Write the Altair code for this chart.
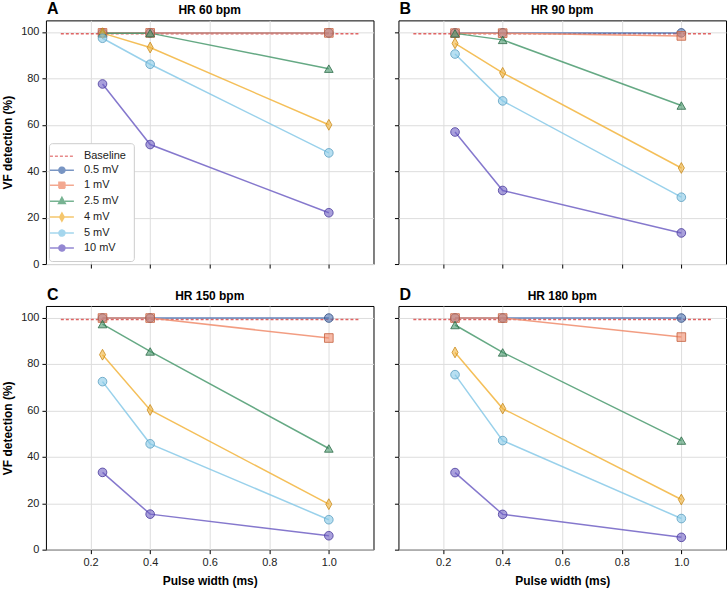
import altair as alt
import pandas as pd

FONT = "Liberation Sans"

# Pulse widths tested (ms)
pulse_widths = [0.24, 0.4, 1.0]

# Pacing amplitudes and their colours / marker shapes
series_names = ["0.5 mV", "1 mV", "2.5 mV", "4 mV", "5 mV", "10 mV"]
series_colors = ["#4C72B0", "#F08C6C", "#4A9A6E", "#F2B43C", "#87C9E8", "#7060C4"]
series_edges = ["#2E4A80", "#C4603E", "#2C6B47", "#C98A1A", "#5A9EC0", "#47389A"]
thin_diamond = "M0,-1.25L0.7,0L0,1.25L-0.7,0Z"
series_shapes = ["circle", "square", "triangle-up", thin_diamond, "circle", "circle"]

# Panel titles and letters
panel_titles = ["HR 60 bpm", "HR 90 bpm", "HR 150 bpm", "HR 180 bpm"]
panel_letters = ["A", "B", "C", "D"]

# VF detection (%) per amplitude, at pulse widths 0.24 / 0.4 / 1.0 ms
hr60 = {
    "0.5 mV": [99.6, 99.6, 99.6],
    "1 mV": [99.6, 99.6, 99.6],
    "2.5 mV": [99.5, 99.5, 84.2],
    "4 mV": [99.5, 93.3, 60.0],
    "5 mV": [97.3, 86.1, 47.9],
    "10 mV": [77.6, 51.5, 22.1],
}
hr90 = {
    "0.5 mV": [99.6, 99.6, 99.6],
    "1 mV": [99.5, 99.5, 98.3],
    "2.5 mV": [99.4, 96.6, 68.3],
    "4 mV": [95.1, 82.4, 41.4],
    "5 mV": [90.5, 70.3, 28.8],
    "10 mV": [56.9, 31.7, 13.4],
}
hr150 = {
    "0.5 mV": [99.8, 99.8, 99.8],
    "1 mV": [99.8, 99.8, 91.2],
    "2.5 mV": [97.2, 85.4, 43.6],
    "4 mV": [84.0, 60.2, 19.6],
    "5 mV": [72.4, 45.6, 12.9],
    "10 mV": [33.3, 15.3, 6.0],
}
hr180 = {
    "0.5 mV": [99.8, 99.8, 99.8],
    "1 mV": [99.8, 99.8, 91.6],
    "2.5 mV": [96.8, 85.0, 47.0],
    "4 mV": [85.0, 60.8, 21.6],
    "5 mV": [75.4, 47.0, 13.4],
    "10 mV": [33.2, 15.2, 5.3],
}
panel_values = [hr60, hr90, hr150, hr180]

# Baseline detection level, drawn as a dashed reference across the plot
baseline_level = 99.2
baseline_span = [0.1, 1.1]
baseline_color = "#E06464"

x_ticks = [0.2, 0.4, 0.6, 0.8, 1.0]
y_ticks = [0, 20, 40, 60, 80, 100]

PANEL_W = 328
PANEL_H = 244

rows = []
for title, values in zip(panel_titles, panel_values):
    for name in series_names:
        for pw, v in zip(pulse_widths, values[name]):
            rows.append({"panel": title, "series": name, "pw": pw, "value": v})
data = pd.DataFrame(rows)

baseline_df = pd.DataFrame(
    {"pw": [baseline_span[0]], "pw2": [baseline_span[1]], "value": [baseline_level]}
)

# Legend entries: line stub plus marker, drawn as symbol paths
legend_keys = ["Baseline"] + series_names
legend_colors = [baseline_color] + series_colors
tail = "M-2.4,0H-0.6M0.6,0H2.4"
circle_path = "M0.6,0A0.6,0.6 0 1 1 -0.6,0A0.6,0.6 0 1 1 0.6,0Z"
legend_paths = [
    "M-2.4,0H2.4",
    tail + circle_path,
    tail + "M-0.6,-0.6H0.6V0.6H-0.6Z",
    tail + "M0,-0.75L0.68,0.5H-0.68Z",
    "M-2.4,0H-0.45M0.45,0H2.4M0,-0.8L0.45,0L0,0.8L-0.45,0Z",
    tail + circle_path,
    tail + circle_path,
]
legend_dashes = [[3, 2]] + [[1, 0]] * 6

x_scale = alt.Scale(domain=[0.05, 1.15], nice=False, zero=False)
y_scale = alt.Scale(domain=[0, 105], nice=False)
color_scale = alt.Scale(domain=series_names, range=series_colors)
edge_scale = alt.Scale(domain=series_names, range=series_edges)
shape_scale = alt.Scale(domain=series_names, range=series_shapes)

INDEP = dict(color="independent", shape="independent", stroke="independent",
             strokeDash="independent")


def panel(i, show_x, show_y, with_legend):
    d = data[data["panel"] == panel_titles[i]]
    x_enc = alt.X(
        "pw:Q", scale=x_scale,
        title="Pulse width (ms)" if show_x else None,
        axis=alt.Axis(values=x_ticks, format=".1f", labels=show_x),
    )
    y_enc = alt.Y(
        "value:Q", scale=y_scale,
        title="VF detection (%)" if show_y else None,
        axis=alt.Axis(values=y_ticks, labels=show_y),
    )

    base_rule = alt.Chart(baseline_df).mark_rule(
        color=baseline_color, strokeDash=[3, 2], strokeWidth=1.5
    ).encode(x=x_enc, x2="pw2:Q", y=y_enc)

    lines = alt.Chart(d).mark_line(strokeWidth=1.5, opacity=0.85).encode(
        x=x_enc, y=y_enc,
        color=alt.Color("series:N", scale=color_scale, legend=None),
    )

    points = alt.Chart(d).mark_point(
        filled=True, size=75, fillOpacity=0.6, strokeOpacity=0.8, strokeWidth=1
    ).encode(
        x=x_enc, y=y_enc,
        color=alt.Color("series:N", scale=color_scale, legend=None),
        stroke=alt.Stroke("series:N", scale=edge_scale, legend=None),
        shape=alt.Shape("series:N", scale=shape_scale, legend=None),
    )

    # Panel letter and heading above the plot area
    header = alt.Chart(
        pd.DataFrame({"letter": [panel_letters[i]], "title": [panel_titles[i]]})
    )
    letter = header.mark_text(
        align="left", baseline="middle", fontSize=16, fontWeight="bold",
        font=FONT, color="black"
    ).encode(x=alt.value(1), y=alt.value(-11), text="letter:N")
    heading = header.mark_text(
        align="center", baseline="middle", fontSize=12, fontWeight="bold",
        font=FONT, color="black"
    ).encode(x=alt.value(PANEL_W / 2), y=alt.value(-10), text="title:N")

    layers = [base_rule, lines, points, letter, heading]

    if with_legend:
        leg = dict(
            title=None, orient="bottom-left", offset=3, padding=7,
            cornerRadius=3, strokeColor="#cccccc", fillColor="#ffffff",
            labelFont=FONT, labelFontSize=11, labelColor="#222222",
            labelOffset=16, symbolSize=100, symbolStrokeWidth=1.5,
            rowPadding=3,
        )
        key_fill = alt.Scale(domain=legend_keys, range=legend_colors)
        legend_layer = alt.Chart(pd.DataFrame({"key": legend_keys})).transform_filter(
            "false"
        ).mark_point(filled=True, opacity=0.75, strokeWidth=1.5, size=100).encode(
            color=alt.Color("key:N", scale=key_fill, legend=alt.Legend(**leg)),
            stroke=alt.Stroke("key:N", scale=key_fill, legend=alt.Legend(**leg)),
            shape=alt.Shape(
                "key:N", scale=alt.Scale(domain=legend_keys, range=legend_paths),
                legend=alt.Legend(**leg),
            ),
            strokeDash=alt.StrokeDash(
                "key:N", scale=alt.Scale(domain=legend_keys, range=legend_dashes),
                legend=alt.Legend(**leg),
            ),
        )
        layers.append(legend_layer)

    return alt.layer(*layers).resolve_scale(**INDEP).properties(
        width=PANEL_W, height=PANEL_H
    )


top = alt.hconcat(
    panel(0, False, True, True), panel(1, False, False, False), spacing=19
).resolve_scale(**INDEP)
bottom = alt.hconcat(
    panel(2, True, True, False), panel(3, True, False, False), spacing=19
).resolve_scale(**INDEP)

chart = alt.vconcat(top, bottom, spacing=16).resolve_scale(**INDEP).properties(
    padding={"left": 1, "top": 0, "right": 0, "bottom": 0}
).configure(font=FONT).configure_view(
    stroke="black", strokeWidth=1
).configure_axis(
    labelFont=FONT, labelFontSize=11, labelColor="#222222",
    titleFont=FONT, titleFontSize=12, titleFontWeight="bold", titleColor="black",
    tickColor="black", tickSize=4, tickWidth=1, domain=False,
    grid=True, gridColor="#dddddd", gridWidth=1, labelPadding=3,
).configure_axisX(titlePadding=8).configure_axisY(titlePadding=6)

chart.save("out.html", embed_options={"renderer": "svg", "actions": False})
